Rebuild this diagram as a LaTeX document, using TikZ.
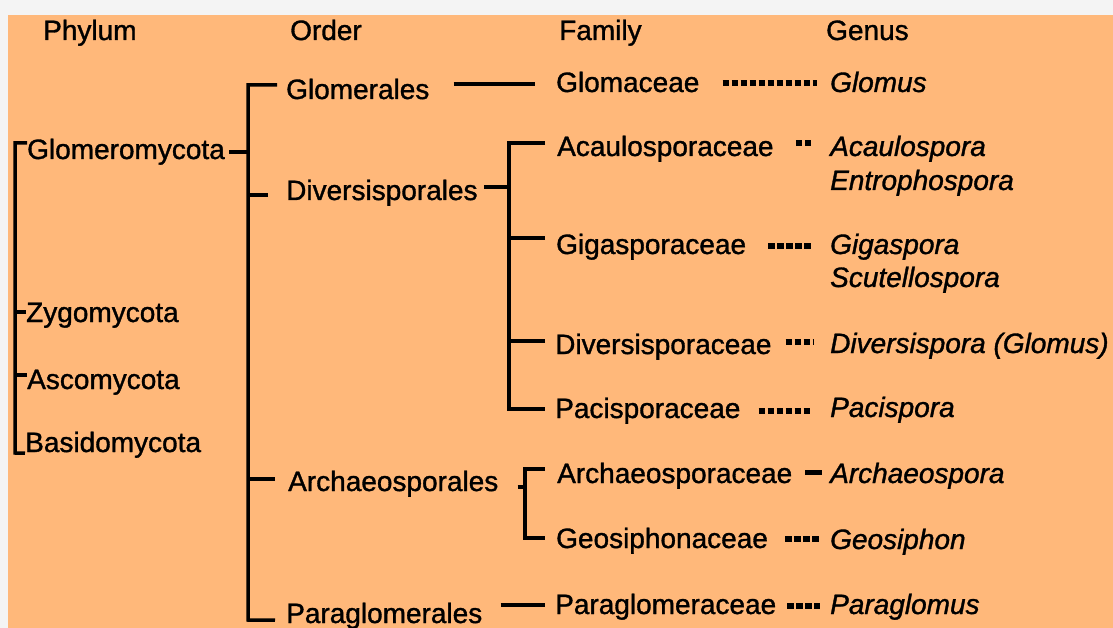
\documentclass[tikz,border=0pt]{standalone}
\usepackage{fontspec}
\setmainfont{Liberation Sans}[RawFeature={embolden=1.2}]
\usetikzlibrary{calc}
\definecolor{chartorange}{RGB}{255,184,122}
\definecolor{framegray}{RGB}{244,244,244}

\begin{document}
\begin{tikzpicture}[x=1pt, y=-1pt,
  taxon/.style={anchor=west, inner sep=0pt, text height=20pt, text depth=0pt,
    font=\fontsize{28}{32}\selectfont},
  genus/.style={taxon, font=\fontsize{28}{32}\selectfont\itshape},
  branch/.style={line width=3.5pt},
  dotlink/.style={line width=5.5pt, dash pattern=on 6.5pt off 2.5pt},
  dashlink/.style={line width=5pt}]

  % --- Background ---
  \useasboundingbox (0,0) rectangle (1113,628);
  \fill[framegray] (0,0) rectangle (1113,628);
  \fill[chartorange] (8,15) rectangle (1113,628);

  % --- Column headings ---
  \node[taxon] (hphylum) at (43,30) {Phylum};
  \node[taxon] (horder) at (290,30) {Order};
  \node[taxon] (hfamily) at (559,30) {Family};
  \node[taxon] (hgenus) at (826,30) {Genus};

  % --- Phyla ---
  \node[taxon] (glomeromycota) at (27,149) {Glomeromycota};
  \node[taxon] (zygomycota) at (26,312) {Zygomycota};
  \node[taxon] (ascomycota) at (27,379) {Ascomycota};
  \node[taxon] (basidomycota) at (25,442) {Basidomycota};

  % --- Orders ---
  \node[taxon] (glomerales) at (286,89) {Glomerales};
  \node[taxon] (diversisporales) at (286,190) {Diversisporales};
  \node[taxon] (archaeosporales) at (288,481) {Archaeosporales};
  \node[taxon] (paraglomerales) at (286,613) {Paraglomerales};

  % --- Families ---
  \node[taxon] (glomaceae) at (556,82) {Glomaceae};
  \node[taxon] (acaulosporaceae) at (557,146) {Acaulosporaceae};
  \node[taxon] (gigasporaceae) at (556,244) {Gigasporaceae};
  \node[taxon] (diversisporaceae) at (555,344) {Diversisporaceae};
  \node[taxon] (pacisporaceae) at (555,408) {Pacisporaceae};
  \node[taxon] (archaeosporaceae) at (557,473) {Archaeosporaceae};
  \node[taxon] (geosiphonaceae) at (556,538) {Geosiphonaceae};
  \node[taxon] (paraglomeraceae) at (555,604) {Paraglomeraceae};

  % --- Genera ---
  \node[genus] (glomus) at (830,82) {Glomus};
  \node[genus] (acaulospora) at (830,146) {Acaulospora};
  \node[genus] (entrophospora) at (830,180) {Entrophospora};
  \node[genus] (gigaspora) at (830,244) {Gigaspora};
  \node[genus] (scutellospora) at (830,277) {Scutellospora};
  \node[genus] (diversispora) at (830,343) {Diversispora (Glomus)};
  \node[genus] (pacispora) at (830,407) {Pacispora};
  \node[genus] (archaeospora) at (830,473) {Archaeospora};
  \node[genus] (geosiphon) at (830,539) {Geosiphon};
  \node[genus] (paraglomus) at (830,604) {Paraglomus};

  % Phylum bracket
  \coordinate (phytop) at (15,143);
  \coordinate (phybot) at (15,453);
  \draw[branch] ([yshift=6pt]glomeromycota.west) -- (phytop) -- (phybot)
    -- ([yshift=-1pt]basidomycota.south west);
  \draw[branch] (zygomycota.west) -- ++(-12,0);
  \draw[branch] ([yshift=4pt]ascomycota.west) -- ++(-13,0);

  % Order bracket
  \coordinate (ordtop) at (248,85);
  \coordinate (ordbot) at (248,620);
  \draw[branch] ([shift={(4pt,-3pt)}]glomeromycota.east) -- ++(19,0);
  \draw[branch] ([shift={(-9pt,4pt)}]glomerales.west) -- (ordtop) -- (ordbot)
    -- ([shift={(-11pt,3pt)}]paraglomerales.south west);
  \draw[branch] ([shift={(-18pt,-5pt)}]diversisporales.west) -- ++(-21,0);
  \draw[branch] ([shift={(-13pt,2pt)}]archaeosporales.west) -- ++(-28,0);

  % Family brackets
  \draw[branch] ([shift={(24pt,5pt)}]glomerales.east)
    -- ([shift={(-21pt,-2pt)}]glomaceae.west);
  \coordinate (divtop) at (509,143);
  \coordinate (divbot) at (509,409);
  \draw[branch] ([shift={(6pt,3pt)}]diversisporales.east) -- (divbot |- 0,187);
  \draw[branch] ([shift={(-12pt,3pt)}]acaulosporaceae.west) -- (divtop) -- (divbot)
    -- ([shift={(-10pt,-1pt)}]pacisporaceae.west);
  \draw[branch] ([shift={(-11pt,6pt)}]gigasporaceae.west) -- (divtop |- 0,238);
  \draw[branch] ([shift={(-10pt,3pt)}]diversisporaceae.west) -- (divtop |- 0,341);

  \coordinate (arctop) at (525,469);
  \coordinate (arcbot) at (525,538);
  \draw[branch] ([shift={(19pt,-6pt)}]archaeosporales.east) -- (arctop |- 0,487);
  \draw[branch] ([shift={(-12pt,4pt)}]archaeosporaceae.west) -- (arctop) -- (arcbot)
    -- ([xshift=-11pt]geosiphonaceae.west);
  \draw[branch] ([shift={(18pt,8pt)}]paraglomerales.east)
    -- ([shift={(-10pt,-1pt)}]paraglomeraceae.west);

  % Family to genus
  \draw[dotlink] ([shift={(23pt,-1pt)}]glomaceae.east) -- ([shift={(-13pt,-1pt)}]glomus.west);
  \draw[dotlink] ([shift={(22pt,3pt)}]acaulosporaceae.east) -- ([shift={(-17pt,3pt)}]acaulospora.west);
  \draw[dotlink] ([shift={(22pt,-2pt)}]gigasporaceae.east) -- ([shift={(-17pt,-2pt)}]gigaspora.west);
  \draw[dotlink] ([shift={(14pt,2pt)}]diversisporaceae.east) -- ([shift={(-17pt,1pt)}]diversispora.west);
  \draw[dotlink] ([shift={(18pt,-3pt)}]pacisporaceae.east) -- ([shift={(-18pt,-4pt)}]pacispora.west);
  \draw[dashlink] ([shift={(13pt,1pt)}]archaeosporaceae.east) -- ([shift={(-8pt,1pt)}]archaeospora.west);
  \draw[dotlink] ([shift={(17pt,-1pt)}]geosiphonaceae.east) -- ([xshift=-10pt]geosiphon.west);
  \draw[dotlink] ([shift={(11pt,-2pt)}]paraglomeraceae.east) -- ([shift={(-10pt,-2pt)}]paraglomus.west);

\end{tikzpicture}
\end{document}
